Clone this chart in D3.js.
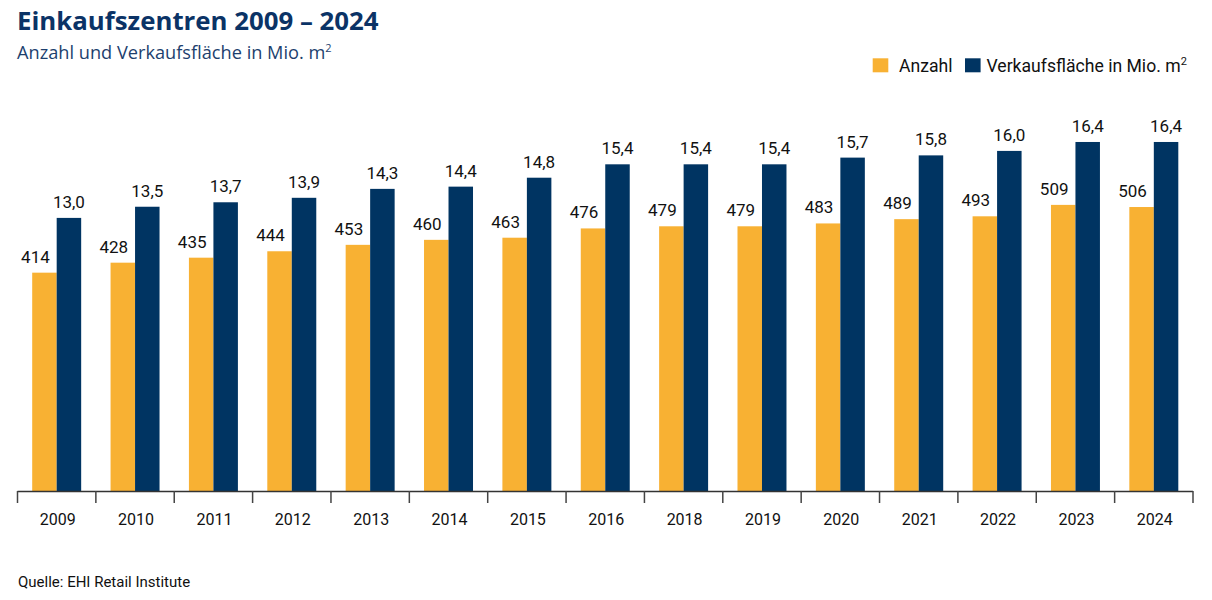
<!DOCTYPE html>
<html>
<head>
<meta charset="utf-8">
<script src="https://cdn.jsdelivr.net/npm/d3@7"></script>
<style>
  html, body { margin: 0; padding: 0; background: #ffffff; }
  svg { display: block; }
</style>
</head>
<body>
<svg id="chart" width="1212" height="600"></svg>
<script>
const years = ["2009","2010","2011","2012","2013","2014","2015","2016","2018","2019","2020","2021","2022","2023","2024"];
const anzahl = [414,428,435,444,453,460,463,476,479,479,483,489,493,509,506];
const flaeche = [13.0,13.5,13.7,13.9,14.3,14.4,14.8,15.4,15.4,15.4,15.7,15.8,16.0,16.4,16.4];
const flaecheLabels = ["13,0","13,5","13,7","13,9","14,3","14,4","14,8","15,4","15,4","15,4","15,7","15,8","16,0","16,4","16,4"];
const seriesNames = ["Anzahl", "Verkaufsfläche in Mio. m"];
const colors = ["#F8B133", "#003462"];

const svg = d3.select("#chart");
const baseY = 491, topY = 100;

const x = d3.scaleBand().domain(years).range([17.5, 1193]).paddingInner(0).paddingOuter(0);
const xi = d3.scaleBand().domain([0, 1]).range([0, x.bandwidth()]).paddingInner(0).paddingOuter(0.6);
const yA = d3.scaleLinear().domain([108, 656]).range([baseY, topY]);
const yF = d3.scaleLinear().domain([0.77, 18.28]).range([baseY, topY]);

// Title
svg.append("text").attr("x", 17).attr("y", 30)
  .attr("font-family", "'Open Sans', sans-serif").attr("font-weight", 700)
  .attr("font-size", 25.8).attr("fill", "#0B3366").text("Einkaufszentren 2009 – 2024");
const sub = svg.append("text").attr("x", 17).attr("y", 59)
  .attr("font-family", "'Open Sans', sans-serif").attr("font-size", 18.2).attr("fill", "#1D3F6E");
sub.append("tspan").text("Anzahl und Verkaufsfläche in Mio. m");
sub.append("tspan").attr("dy", -7).attr("font-size", 11).text("2");

// Legend
const leg = svg.append("g").attr("font-family", "Roboto, sans-serif").attr("font-size", 17.6).attr("fill", "#111");
leg.append("rect").attr("x", 872.7).attr("y", 58.3).attr("width", 15.6).attr("height", 14).attr("fill", colors[0]);
leg.append("text").attr("x", 899).attr("y", 71.5).text(seriesNames[0]);
leg.append("rect").attr("x", 965).attr("y", 58.3).attr("width", 15.6).attr("height", 14).attr("fill", colors[1]);
const lt = leg.append("text").attr("x", 986.5).attr("y", 71.5);
lt.append("tspan").text(seriesNames[1]);
lt.append("tspan").attr("dy", -7).attr("font-size", 11).text("2");

// Bars
const g = svg.append("g");
years.forEach((yr, i) => {
  const x0 = x(yr);
  g.append("rect").attr("x", x0 + xi(0)).attr("width", xi.bandwidth())
    .attr("y", yA(anzahl[i])).attr("height", baseY - yA(anzahl[i])).attr("fill", colors[0]);
  g.append("rect").attr("x", x0 + xi(1)).attr("width", xi.bandwidth())
    .attr("y", yF(flaeche[i])).attr("height", baseY - yF(flaeche[i])).attr("fill", colors[1]);
  g.append("text").attr("x", x0 + xi(0) + xi.bandwidth() / 2 - 9).attr("y", yA(anzahl[i]) - 10)
    .attr("text-anchor", "middle").attr("font-family", "Roboto, sans-serif").attr("font-size", 17)
    .attr("fill", "#111").text(anzahl[i]);
  g.append("text").attr("x", x0 + xi(1) + xi.bandwidth() / 2).attr("y", yF(flaeche[i]) - 10)
    .attr("text-anchor", "middle").attr("font-family", "Roboto, sans-serif").attr("font-size", 17)
    .attr("fill", "#111").text(flaecheLabels[i]);
});

// Axis
const ax = svg.append("g");
ax.append("line").attr("x1", x.range()[0]).attr("x2", x.range()[1]).attr("y1", baseY + 0.5).attr("y2", baseY + 0.5)
  .attr("stroke", "#333").attr("stroke-width", 1.5);
const edges = years.map(d => x(d)).concat([x.range()[1]]);
ax.selectAll("line.tick").data(edges).enter().append("line")
  .attr("x1", d => d).attr("x2", d => d).attr("y1", baseY).attr("y2", baseY + 12)
  .attr("stroke", "#444").attr("stroke-width", 1.5);
ax.selectAll("text.lab").data(years).enter().append("text")
  .attr("x", d => x(d) + x.bandwidth() / 2 + 1).attr("y", 525)
  .attr("text-anchor", "middle").attr("font-family", "Roboto, sans-serif").attr("font-size", 16)
  .attr("fill", "#111").text(d => d);

// Source
svg.append("text").attr("x", 18).attr("y", 586.5)
  .attr("font-family", "Roboto, sans-serif").attr("font-size", 15).attr("fill", "#111")
  .text("Quelle: EHI Retail Institute");
</script>
</body>
</html>
